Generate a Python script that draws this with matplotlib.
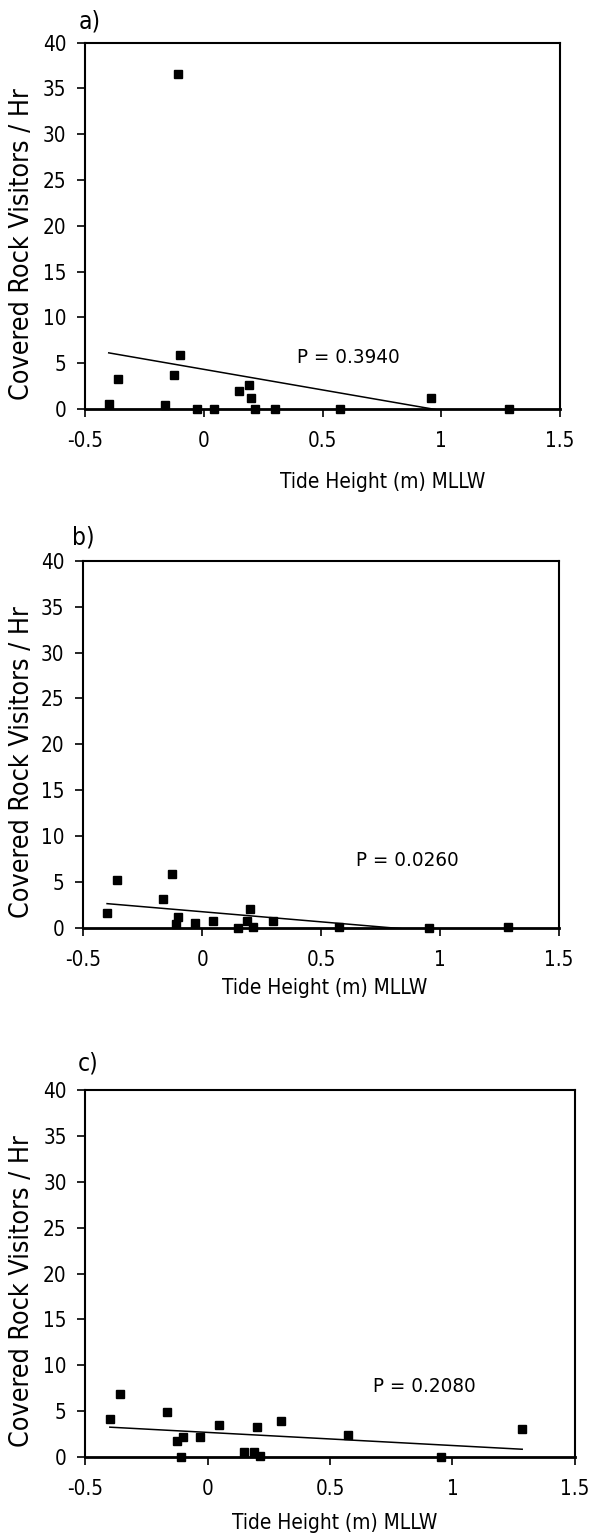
"""
Covered rock visitors per hour vs tide height, three panels.
"""

import numpy as np
import matplotlib
matplotlib.use('Agg')
import matplotlib.pyplot as plt
from matplotlib import font_manager

# tide height (m) MLLW, same sampling for each panel
tide = [-0.40, -0.36, -0.165, -0.125, -0.11, -0.10, -0.03, 0.045,
        0.15, 0.19, 0.20, 0.215, 0.30, 0.575, 0.955, 1.285]

visitors_a = [0.55, 3.25, 0.4, 3.7, 36.6, 5.95, 0.0, 0.0,
              1.95, 2.6, 1.25, 0.0, 0.0, 0.0, 1.25, 0.0]
visitors_b = [1.63, 5.23, 3.19, 5.92, 0.4, 1.2, 0.51, 0.73,
              0.0, 0.73, 2.1, 0.07, 0.73, 0.07, 0.0, 0.07]
visitors_c = [4.15, 6.88, 4.86, 1.72, 0.0, 2.17, 2.17, 3.48,
              0.52, 0.52, 3.29, 0.1, 3.96, 2.39, 0.0, 3.07]

panel_letters = ['a)', 'b)', 'c)']
p_labels = ['P = 0.3940', 'P = 0.0260', 'P = 0.2080']
p_pos = [(0.393, 5.57), (0.649, 7.3), (0.677, 7.66)]

x_ticks = [-0.5, 0, 0.5, 1, 1.5]
x_ticklabels = ['-0.5', '0', '0.5', '1', '1.5']
y_ticks = list(range(0, 41, 5))

W, H = 608, 1538
plt.rcParams['font.family'] = ['DejaVu Sans']

# narrower face looks closer to the original Tahoma-style text
have_cond = any('Condensed' in f.fname and 'DejaVuSans' in f.fname
                for f in font_manager.fontManager.ttflist)
if have_cond:
    plt.rcParams['font.stretch'] = 'condensed'
    scale = 1.1
else:
    scale = 1.0

fig = plt.figure(figsize=(W / 100, H / 100), dpi=100)

# axes boxes in pixels: left, right, top, bottom
boxes = [(85, 560, 42.7, 409), (83.3, 558.7, 560.7, 928),
         (85.4, 574.8, 1089.9, 1457.1)]
# letter position (left px, center y px), xlabel (center x px, center y px)
letter_pos = [(79, 22), (72, 537), (78, 1063.5)]
xlabel_pos = [(383, 482), (325, 988), (335, 1523)]

series = [visitors_a, visitors_b, visitors_c]

for i in range(3):
    l, r, t, b = boxes[i]
    ax = fig.add_axes([l / W, 1 - b / H, (r - l) / W, (b - t) / H])
    x = np.array(tide)
    y = np.array(series[i])

    # linear trend line like the spreadsheet one
    k, c0 = np.polyfit(x, y, 1)
    xx = np.array([x.min(), x.max()])
    ax.plot(xx, k * xx + c0, color='black', lw=1.1)
    ax.plot(x, y, 's', color='black', ms=5.5, clip_on=False, zorder=5)

    ax.set_xlim(-0.5, 1.5)
    ax.set_ylim(0, 40)
    ax.set_xticks(x_ticks)
    ax.set_xticklabels(x_ticklabels)
    ax.set_yticks(y_ticks)
    ax.tick_params(axis='both', direction='out', length=5.5, width=1.2,
                   labelsize=13.5 * scale)
    ax.tick_params(axis='y', pad=8)
    ax.tick_params(axis='x', pad=10)
    for s in ax.spines.values():
        s.set_linewidth(1.5)
    ax.spines['bottom'].set_linewidth(2.0)

    ax.text(p_pos[i][0], p_pos[i][1], p_labels[i], fontsize=13.3 * scale,
            ha='left', va='center')

    ax.set_ylabel('Covered Rock Visitors / Hr', fontsize=17.5 * scale)
    ax.yaxis.set_label_coords((22 - l) / (r - l), (b - (t + b) / 2 - 18) / (b - t))
    ax.yaxis.label.set_va('center')

    ax.set_xlabel('Tide Height (m) MLLW', fontsize=13.6 * scale)
    xc, yc = xlabel_pos[i]
    ax.xaxis.set_label_coords((xc - l) / (r - l), (b - yc) / (b - t))
    ax.xaxis.label.set_va('center')

    lx, ly = letter_pos[i]
    fig.text(lx / W, 1 - ly / H, panel_letters[i], fontsize=16 * scale,
             ha='left', va='center')

fig.savefig('out.png', dpi=100)
